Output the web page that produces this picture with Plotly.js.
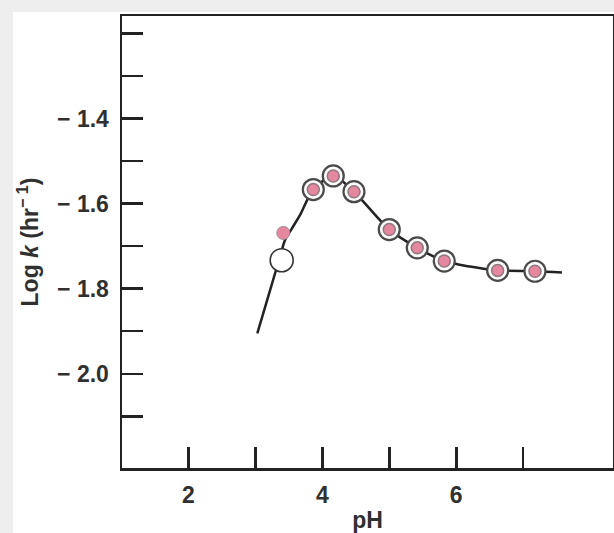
<!DOCTYPE html>
<html>
<head>
<meta charset="utf-8">
<script src="https://cdn.plot.ly/plotly-3.0.1.min.js"></script>
<style>
  html, body { margin: 0; padding: 0; background: #eeeeee; width: 614px; height: 533px; overflow: hidden; }
  #chart { position: absolute; left: 13px; top: 12px; width: 601px; height: 521px; background: #ffffff; }
</style>
</head>
<body>
<div id="chart"></div>
<script>
// Smooth fitted curve (pH, log k)
const curvePH   = [3.03, 3.167, 3.354, 3.443, 3.548, 3.667, 3.866, 4.164, 4.473, 5.0, 5.418, 5.821, 6.204, 6.618, 7.175, 7.578];
const curveLogK = [-1.905, -1.832, -1.733, -1.686, -1.658, -1.627, -1.567, -1.535, -1.572, -1.661, -1.704, -1.735, -1.748, -1.757, -1.759, -1.762];

// Ringed points
const ringPH   = [3.866, 4.164, 4.473, 5.0, 5.418, 5.821, 6.618, 7.175];
const ringLogK = [-1.567, -1.535, -1.572, -1.661, -1.704, -1.735, -1.757, -1.759];

// Single small filled point
const dotPH   = [3.418];
const dotLogK = [-1.669];

// Open circle point
const openPH   = [3.394];
const openLogK = [-1.733];

// Axis ticks: labelled major ticks and unlabelled minor ticks
const xTickVals  = [2, 4, 6];
const xTickText  = ['2', '4', '6'];
const xMinorVals = [3, 5, 7];
const yTickVals  = [-1.4, -1.6, -1.8, -2.0];
const yTickText  = ['\u2212 1.4', '\u2212 1.6', '\u2212 1.8', '\u2212 2.0'];
const yMinorVals = [-1.2, -1.3, -1.5, -1.7, -1.9, -2.1];

const pink = '#e4879f';
const ink = '#222222';

const traces = [
  { x: curvePH, y: curveLogK, mode: 'lines', type: 'scatter',
    line: { color: ink, width: 2.5, shape: 'spline', smoothing: 0.8 }, hoverinfo: 'skip' },
  { x: ringPH, y: ringLogK, mode: 'markers', type: 'scatter',
    marker: { size: 21, color: '#fbfbfb', line: { color: '#4a4a4a', width: 2.2 } } },
  { x: ringPH, y: ringLogK, mode: 'markers', type: 'scatter',
    marker: { size: 12, color: pink, line: { color: '#8f7880', width: 1.5 } } },
  { x: dotPH, y: dotLogK, mode: 'markers', type: 'scatter',
    marker: { size: 13, color: pink, line: { color: '#a08890', width: 1 } } },
  { x: openPH, y: openLogK, mode: 'markers', type: 'scatter',
    marker: { size: 23, color: '#ffffff', line: { color: '#333333', width: 1.6 } } }
];

const font = { family: 'Liberation Sans, Arial, sans-serif', size: 23, color: '#303030', weight: 'bold' };
const titleFont = { family: 'Liberation Sans Narrow, Liberation Sans, Arial, sans-serif', size: 23, color: '#303030', weight: 'bold' };

const minorCommon = { ticks: 'inside', ticklen: 21, tickwidth: 2.5, tickcolor: ink, showgrid: false };

const layout = {
  width: 601, height: 521,
  margin: { l: 109, r: 1, t: 4, b: 65 },
  paper_bgcolor: '#ffffff', plot_bgcolor: '#ffffff',
  showlegend: false,
  font: font,
  xaxis: {
    range: [1.01, 8.34], tickmode: 'array', tickvals: xTickVals, ticktext: xTickText,
    ticks: 'inside', ticklen: 21, tickwidth: 2.5, tickcolor: ink,
    minor: Object.assign({ tickmode: 'array', tickvals: xMinorVals }, minorCommon),
    showline: true, linecolor: ink, linewidth: 2.5, mirror: true,
    showgrid: false, zeroline: false, tickfont: font, ticklabelstandoff: 5,
    title: { text: 'pH', font: titleFont, standoff: 8 }
  },
  yaxis: {
    range: [-2.2215, -1.159], tickmode: 'array', tickvals: yTickVals, ticktext: yTickText,
    ticks: 'inside', ticklen: 21, tickwidth: 2.5, tickcolor: ink,
    minor: Object.assign({ tickmode: 'array', tickvals: yMinorVals }, minorCommon),
    showline: true, linecolor: ink, linewidth: 2.5, mirror: true,
    showgrid: false, zeroline: false, tickfont: font, ticklabelstandoff: 6,
    title: { text: 'Log <i>k</i> (hr<sup>\u2212 1</sup>)', font: titleFont, standoff: 16 }
  }
};

Plotly.newPlot('chart', traces, layout, { displayModeBar: false, staticPlot: true });
</script>
</body>
</html>
